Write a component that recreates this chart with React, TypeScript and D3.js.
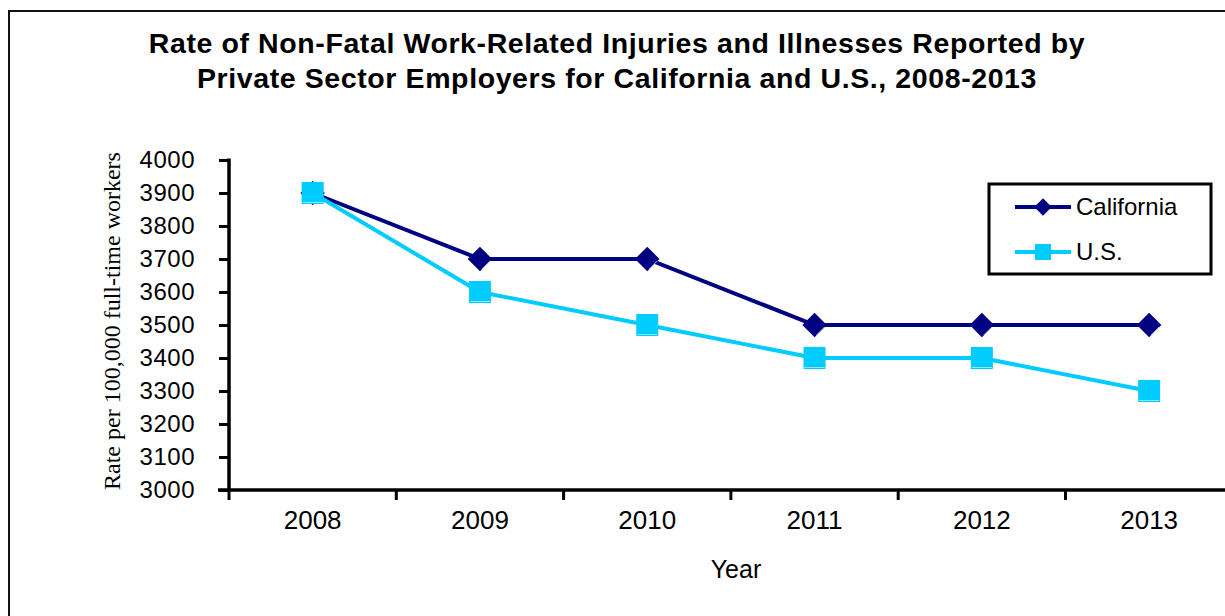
import React, { useRef, useEffect } from 'react';
import * as d3 from 'd3';

const years = ['2008', '2009', '2010', '2011', '2012', '2013'];
const california = [3900, 3700, 3700, 3500, 3500, 3500];
const us = [3900, 3600, 3500, 3400, 3400, 3300];
const yTicks = [3000, 3100, 3200, 3300, 3400, 3500, 3600, 3700, 3800, 3900, 4000];
const titleLines = [
  'Rate of Non-Fatal Work-Related Injuries and Illnesses Reported by',
  'Private Sector Employers for California and U.S., 2008-2013',
];

const W = 1225;
const H = 616;
const SANS = '"Liberation Sans", Arial, sans-serif';
const SERIF = '"Liberation Serif", "Times New Roman", serif';
const NAVY = '#000080';
const CYAN = '#00CCFF';

const App: React.FC = () => {
  const ref = useRef<SVGSVGElement>(null);

  useEffect(() => {
    if (!ref.current) return;
    const svg = d3.select(ref.current);
    svg.selectAll('*').remove();

    const left = 229;
    const top = 160;
    const bottom = 490;

    const x = d3.scaleBand<string>().domain(years).range([left, left + 6 * 167.3]).padding(0);
    const y = d3.scaleLinear().domain([3000, 4000]).range([bottom, top]);
    const cx = (d: string) => (x(d) as number) + x.bandwidth() / 2;

    // outer frame (runs off the right / bottom edge)
    svg.append('rect')
      .attr('x', 9).attr('y', 11)
      .attr('width', W + 20).attr('height', H + 20)
      .attr('fill', 'none').attr('stroke', '#111').attr('stroke-width', 2);

    // title
    svg.append('g').selectAll('text')
      .data(titleLines)
      .enter().append('text')
      .attr('x', 617)
      .attr('y', (_, i) => 53 + i * 35)
      .attr('text-anchor', 'middle')
      .attr('font-family', SANS)
      .attr('font-weight', 'bold')
      .attr('font-size', 28.5)
      .attr('letter-spacing', 0.6)
      .attr('fill', '#000')
      .text(d => d);

    // y axis
    const yAxis = svg.append('g')
      .attr('transform', `translate(${left},0)`)
      .call(d3.axisLeft(y).tickValues(yTicks).tickSize(10).tickPadding(24).tickFormat(d3.format('d')));
    yAxis.select('.domain').attr('stroke', '#000').attr('stroke-width', 3.5).attr('d', `M0,${top - 1.5}V${bottom}`);
    yAxis.selectAll('.tick line').attr('stroke', '#000').attr('stroke-width', 3);
    yAxis.selectAll('.tick text')
      .attr('font-family', SANS).attr('font-size', 24).attr('fill', '#000')
      .attr('letter-spacing', 0.5);

    // x axis: line, boundary ticks, centred labels
    const xr = x.range();
    svg.append('line')
      .attr('x1', left - 11).attr('x2', xr[1])
      .attr('y1', bottom).attr('y2', bottom)
      .attr('stroke', '#000').attr('stroke-width', 3.5);
    svg.append('g').selectAll('line')
      .data(years)
      .enter().append('line')
      .attr('x1', d => x(d) as number).attr('x2', d => x(d) as number)
      .attr('y1', bottom).attr('y2', bottom + 10)
      .attr('stroke', '#000').attr('stroke-width', 3);
    svg.append('g').selectAll('text')
      .data(years)
      .enter().append('text')
      .attr('x', d => cx(d))
      .attr('y', 529)
      .attr('text-anchor', 'middle')
      .attr('font-family', SANS).attr('font-size', 26).attr('fill', '#000')
      .text(d => d);

    // axis titles
    svg.append('text')
      .attr('transform', `translate(120,321) rotate(-90)`)
      .attr('text-anchor', 'middle')
      .attr('font-family', SERIF).attr('font-size', 24).attr('fill', '#000')
      .text('Rate per 100,000 full-time workers');
    svg.append('text')
      .attr('x', 736).attr('y', 578)
      .attr('text-anchor', 'middle')
      .attr('font-family', SANS).attr('font-size', 25).attr('fill', '#000')
      .text('Year');

    const diamond = d3.symbol(d3.symbolSquare, 300);
    const square = d3.symbol(d3.symbolSquare, 484);

    const drawSeries = (vals: number[], color: string, kind: 'diamond' | 'square') => {
      const line = d3.line<number>().x((_, i) => cx(years[i])).y(v => y(v));
      svg.append('path')
        .datum(vals)
        .attr('d', line)
        .attr('fill', 'none')
        .attr('stroke', color)
        .attr('stroke-width', 4);
      const g = svg.append('g').selectAll('g')
        .data(vals)
        .enter().append('g')
        .attr('transform', (v, i) => `translate(${cx(years[i])},${y(v)})`);
      if (kind === 'diamond') {
        g.append('path').attr('d', diamond).attr('transform', 'rotate(45)').attr('fill', color);
        g.append('path').attr('d', 'M10,2 L2,10').attr('stroke', '#b8b8e0').attr('stroke-width', 1);
      } else {
        g.append('path').attr('d', square).attr('fill', color);
        g.append('path').attr('d', 'M-10,9.5 H10').attr('stroke', '#8fe6ff').attr('stroke-width', 1);
      }
    };

    drawSeries(california, NAVY, 'diamond');
    drawSeries(us, CYAN, 'square');

    // legend
    const lg = svg.append('g');
    lg.append('rect')
      .attr('x', 989).attr('y', 184)
      .attr('width', 222).attr('height', 90)
      .attr('fill', '#fff').attr('stroke', '#000').attr('stroke-width', 3);
    const legendItems = [
      { name: 'California', color: NAVY, kind: 'diamond', y: 207 },
      { name: 'U.S.', color: CYAN, kind: 'square', y: 252 },
    ];
    legendItems.forEach(it => {
      lg.append('line')
        .attr('x1', 1015).attr('x2', 1071)
        .attr('y1', it.y).attr('y2', it.y)
        .attr('stroke', it.color).attr('stroke-width', 4);
      const m = lg.append('g').attr('transform', `translate(1043,${it.y})`);
      if (it.kind === 'diamond') {
        m.append('path').attr('d', d3.symbol(d3.symbolSquare, 150)).attr('transform', 'rotate(45)').attr('fill', it.color);
      } else {
        m.append('path').attr('d', d3.symbol(d3.symbolSquare, 256)).attr('fill', it.color);
      }
      lg.append('text')
        .attr('x', 1076).attr('y', it.y + 8)
        .attr('font-family', SANS).attr('font-size', 24).attr('fill', '#000')
        .text(it.name);
    });
  }, []);

  return (
    <svg
      ref={ref}
      width={W}
      height={H}
      viewBox={`0 0 ${W} ${H}`}
      style={{ position: 'absolute', left: 0, top: 0, background: '#fff' }}
    />
  );
};

export default App;
